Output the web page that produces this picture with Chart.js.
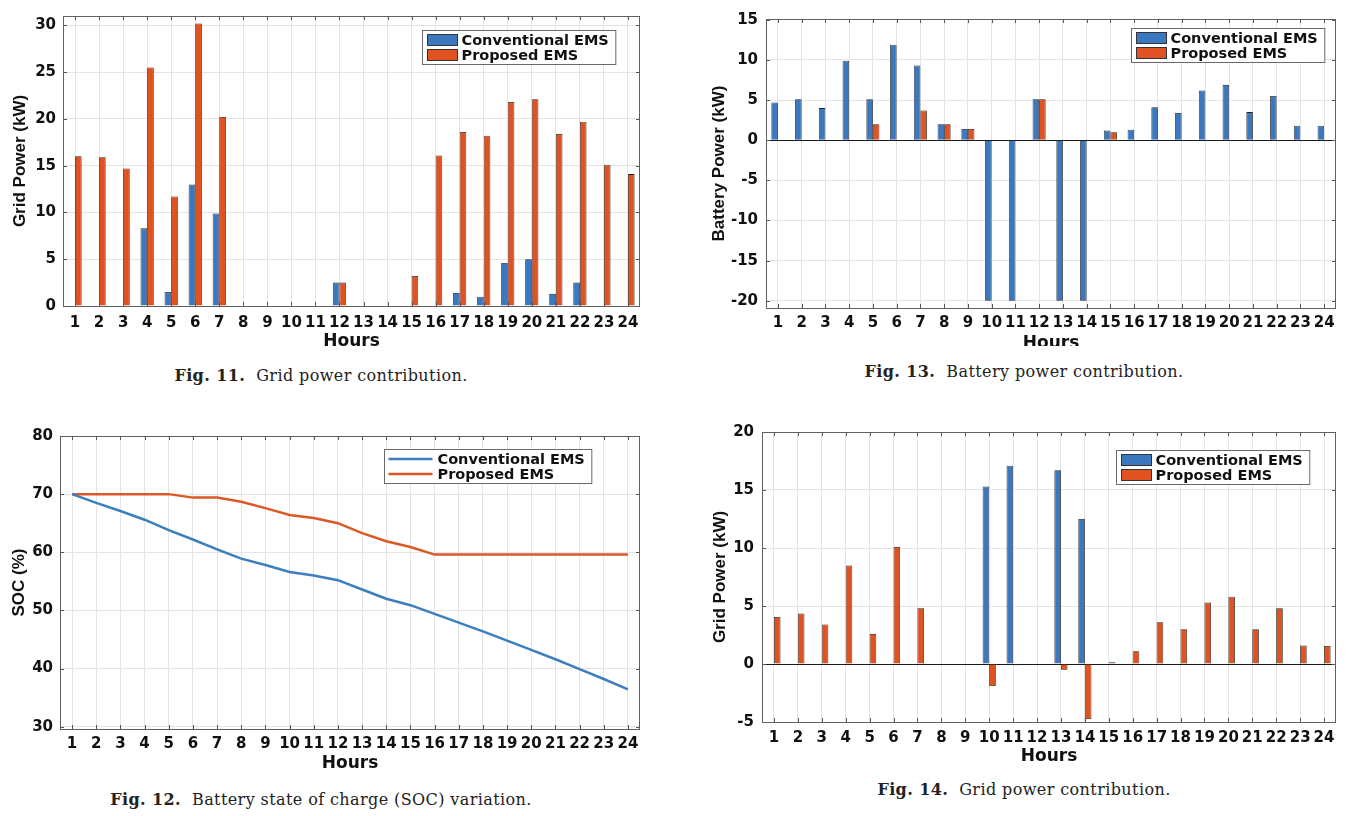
<!DOCTYPE html>
<html><head><meta charset="utf-8">
<script src="https://cdn.jsdelivr.net/npm/chart.js@4.4.1/dist/chart.umd.min.js"></script>
<style>
body{margin:0;background:#fff;width:1351px;height:816px;position:relative;overflow:hidden;}
.wrap{position:absolute;overflow:hidden;}
.inner{position:absolute;left:0;top:0;}
.cap{position:absolute;font-family:'DejaVu Serif',serif;font-size:16px;letter-spacing:0.4px;line-height:18px;color:#222;white-space:nowrap;transform:translateX(-50%);}
</style></head><body>
<div class="wrap" style="left:0;top:0;width:680px;height:360px"><div class="inner" style="width:680px;height:360px"><canvas id="c1"></canvas></div></div>
<div class="wrap" style="left:680px;top:0;width:671px;height:346px"><div class="inner" style="width:671px;height:360px"><canvas id="c2"></canvas></div></div>
<div class="wrap" style="left:0;top:400px;width:680px;height:380px"><div class="inner" style="width:680px;height:380px"><canvas id="c3"></canvas></div></div>
<div class="wrap" style="left:680px;top:400px;width:671px;height:380px"><div class="inner" style="width:671px;height:380px"><canvas id="c4"></canvas></div></div>
<div class="cap" style="left:321px;top:367px"><b>Fig. 11.</b>&nbsp; Grid power contribution.</div>
<div class="cap" style="left:1024px;top:363px"><b>Fig. 13.</b>&nbsp; Battery power contribution.</div>
<div class="cap" style="left:321px;top:791px"><b>Fig. 12.</b>&nbsp; Battery state of charge (SOC) variation.</div>
<div class="cap" style="left:1024px;top:781px"><b>Fig. 14.</b>&nbsp; Grid power contribution.</div>
<script>
// ---- data ----
const hours = ['1','2','3','4','5','6','7','8','9','10','11','12','13','14','15','16','17','18','19','20','21','22','23','24'];
const seriesNames = ['Conventional EMS','Proposed EMS'];

const grid11Conv = [0,0,0,8.3,1.5,13.0,9.9,0,0,0,0,2.5,0,0,0,0,1.4,1.0,4.6,5.0,1.3,2.5,0,0];
const grid11Prop = [16.0,15.9,14.7,25.5,11.7,30.2,20.2,0,0,0,0,2.5,0,0,3.2,16.1,18.6,18.2,21.8,22.1,18.4,19.7,15.1,14.1];
const ticks11 = [0,5,10,15,20,25,30];

const batt13Conv = [4.7,5.1,4.0,9.9,5.1,11.9,9.3,2.0,1.4,-20,-20,5.1,-20,-20,1.2,1.3,4.1,3.4,6.2,6.9,3.5,5.5,1.8,1.8];
const batt13Prop = [0,0,0,0,2.0,0,3.7,2.0,1.4,0,0,5.1,0,0,1.0,0,0,0,0,0,0,0,0,0];
const ticks13 = [-20,-15,-10,-5,0,5,10,15];

const soc12Conv = [70,68.5,67.1,65.6,63.8,62.2,60.5,58.9,57.8,56.6,56.0,55.2,53.6,52.0,50.9,49.4,47.9,46.4,44.8,43.2,41.6,39.9,38.2,36.4];
const soc12Prop = [70,70,70,70,70,69.4,69.4,68.7,67.6,66.4,65.9,65.0,63.3,61.9,60.9,59.6,59.6,59.6,59.6,59.6,59.6,59.6,59.6,59.6];
const ticks12 = [30,40,50,60,70,80];

const grid14Conv = [0,0,0,0,0,0,0,0,0,15.3,17.1,0,16.7,12.5,0,0,0,0,0,0,0,0,0,0];
const grid14Prop = [4.05,4.35,3.4,8.5,2.6,10.1,4.8,0,0,-1.9,-0.1,0,-0.5,-4.75,0.15,1.1,3.6,3.0,5.3,5.8,3.0,4.8,1.6,1.55];
const ticks14 = [-5,0,5,10,15,20];

// ---- styles ----
const BLUE = '#3b78bf', RED = '#e0521f';
const LBLUE = '#3c7ebf', LRED = '#d95a26';
const GRID = '#e4e4e4';
const TICKFONT = {family:'DejaVu Sans', weight:'bold', size:15};

const framePlugin = {
  id:'frame',
  afterDraw(chart){
    const o = chart.options.plugins.frame;
    const {ctx, chartArea:a, scales:{x,y}} = chart;
    ctx.save();
    ctx.strokeStyle = '#555'; ctx.lineWidth = 1;
    ctx.beginPath();
    x.ticks.forEach((t,i)=>{const px=Math.round(x.getPixelForTick(i))+0.5;
      ctx.moveTo(px,a.bottom); ctx.lineTo(px,a.bottom-4); ctx.moveTo(px,a.top); ctx.lineTo(px,a.top+4);});
    y.ticks.forEach((t,i)=>{const py=Math.round(y.getPixelForTick(i))+0.5;
      ctx.moveTo(a.left,py); ctx.lineTo(a.left+4,py); ctx.moveTo(a.right,py); ctx.lineTo(a.right-4,py);});
    ctx.stroke();
    ctx.strokeStyle = '#606060';
    ctx.strokeRect(Math.round(a.left)+0.5, Math.round(a.top)+0.5, Math.round(a.right-a.left)-1, Math.round(a.bottom-a.top));
    // legend
    ctx.font = 'bold 14.5px "DejaVu Sans"';
    const ds = chart.data.datasets;
    const sw = o.kind==='line' ? 44 : 30;
    const tx = sw + 9;
    let tw = 0; ds.forEach(d=>{tw=Math.max(tw, ctx.measureText(d.label).width);});
    const w = tx + tw + 7, h = 34;
    const bx = Math.round(a.right - o.right - w) + 0.5, by = Math.round(a.top + o.top) + 0.5;
    ctx.fillStyle = '#fff'; ctx.fillRect(bx,by,w,h);
    ctx.strokeStyle = '#6a6a6a'; ctx.strokeRect(bx,by,w,h);
    ds.forEach((d,i)=>{
      const cy = by + 9.5 + i*15;
      if (o.kind==='line'){
        ctx.strokeStyle = d.borderColor; ctx.lineWidth = 2.5;
        ctx.beginPath(); ctx.moveTo(bx+4,cy); ctx.lineTo(bx+4+sw,cy); ctx.stroke();
      } else {
        ctx.fillStyle = d.backgroundColor; ctx.fillRect(bx+5, cy-5.5, sw, 11);
        ctx.strokeStyle = '#333'; ctx.lineWidth = 1; ctx.strokeRect(bx+5, cy-5.5, sw, 11);
      }
      ctx.fillStyle = '#111'; ctx.textBaseline = 'middle'; ctx.textAlign = 'left';
      ctx.fillText(d.label, bx+tx, cy+1);
    });
    ctx.restore();
  }
};

function makeChart(id, type, datasets, yMin, yMax, yTicks, yTitle, L){
  return new Chart(document.getElementById(id), {
    type,
    data:{labels:hours, datasets},
    options:{
      responsive:true, maintainAspectRatio:false, animation:false,
      layout:{padding:{top:L.pt, right:L.pr, left:0, bottom:0}},
      plugins:{legend:{display:false}, tooltip:{enabled:false}, frame:{kind:L.kind, right:L.lr, top:L.lt}},
      scales:{
        x:{type:'category', offset:true,
           grid:{offset:false, color:GRID, drawTicks:false}, border:{display:false},
           ticks:{font:TICKFONT, color:'#111', padding:L.xtp, maxRotation:0, autoSkip:false},
           title:{display:true, text:'Hours', color:'#111', font:{family:'DejaVu Sans', weight:'bold', size:17}, padding:{top:0, bottom:L.xttp}},
           afterFit(s){ s.height = L.xh; }},
        y:{min:yMin, max:yMax,
           afterBuildTicks(s){ s.ticks = yTicks.map(v=>({value:v})); },
           grid:{color:c=> (c.tick && c.tick.value===0) ? '#1a1a1a' : GRID, drawTicks:false}, border:{display:false},
           ticks:{font:TICKFONT, color:'#111', padding:L.ytp},
           title:{display:true, text:yTitle, color:'#111', font:{family:'Liberation Sans', weight:'bold', size:17}, padding:{top:L.yttp, bottom:0}},
           afterFit(s){ s.width = L.yw; }}
      }
    },
    plugins:[framePlugin]
  });
}

function barSets(a,b){
  return [
    {label:seriesNames[0], data:a, backgroundColor:BLUE, borderColor:'#222', borderWidth:0.8, categoryPercentage:0.55, barPercentage:1},
    {label:seriesNames[1], data:b, backgroundColor:RED, borderColor:'#222', borderWidth:0.8, categoryPercentage:0.55, barPercentage:1}
  ];
}

makeChart('c1','bar', barSets(grid11Conv, grid11Prop), 0, 31, ticks11, 'Grid Power (kW)',
  {pt:14, pr:40, yw:63, xh:54, ytp:7, yttp:10, xtp:8.5, xttp:7.8, kind:'bar', lr:25, lt:14});
makeChart('c2','bar', barSets(batt13Conv, batt13Prop), -20.9, 15.1, ticks13, 'Battery Power (kW)',
  {pt:19, pr:15, yw:86, xh:52, ytp:8, yttp:29, xtp:6.2, xttp:6.5, kind:'bar', lr:12, lt:9});
makeChart('c3','line', [
    {label:seriesNames[0], data:soc12Conv, borderColor:LBLUE, borderWidth:2.5, pointRadius:0, fill:false},
    {label:seriesNames[1], data:soc12Prop, borderColor:LRED, borderWidth:2.5, pointRadius:0, fill:false}
  ], 29.6, 80, ticks12, 'SOC (%)',
  {pt:36, pr:40, yw:60, xh:51, ytp:7, yttp:9, xtp:6.2, xttp:5.8, kind:'line', lr:49, lt:13});
makeChart('c4','bar', barSets(grid14Conv, grid14Prop), -5, 20, ticks14, 'Grid Power (kW)',
  {pt:32, pr:15, yw:82, xh:58, ytp:8, yttp:30, xtp:7.2, xttp:12.8, kind:'bar', lr:27, lt:18});
</script>
</body></html>
